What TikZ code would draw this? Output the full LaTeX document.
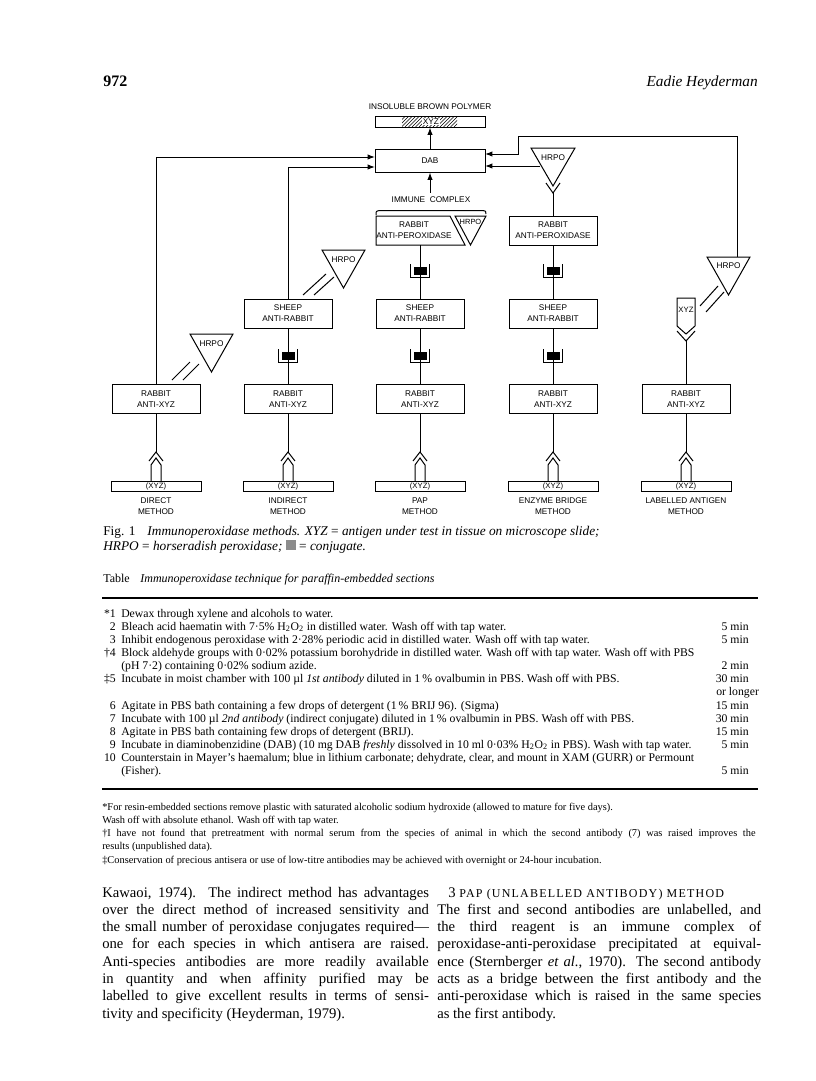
\documentclass[tikz,border=0pt]{standalone}
\usepackage{fontspec}
\setmainfont{Liberation Serif}
\newfontfamily\dsans{Liberation Sans}
\usetikzlibrary{arrows.meta}
\newcommand\myTab{\fontsize{8.8}{10}\selectfont}
\newcommand\myFn{\fontsize{7.8}{9}\selectfont}
\newcommand\myBody{\fontsize{11}{13}\selectfont}
\newcommand\myCap{\fontsize{10}{12}\selectfont}
\newcommand\myDia{\dsans\fontsize{6.2}{8.2}\selectfont}
\newcommand\jl[1]{\makebox[245pt][s]{#1}}
\newcommand\jr[1]{\makebox[243pt][s]{#1}}
\tikzset{
 conj/.pic={
  \fill[black] (-6.5,-4.5) rectangle (6.5,4);
  \draw[line width=0.8pt] (-9.5,-7) -- (-9.5,6.5) -- (9.5,6.5) -- (9.5,-7);
 },
 recep/.pic={
  \draw[line width=0.75pt] (-7,9) -- (0,0) -- (7,9);
  \draw[line width=0.75pt] (-5,29) -- (-5,13) -- (0,6) -- (5,13) -- (5,29);
 },
 ln/.style={line width=0.75pt},
 arr/.style={line width=0.75pt,-{Latex[length=5.5pt,width=4pt]}},
 box/.style={draw,line width=0.75pt,minimum width=66pt,minimum height=21.75pt,inner sep=0pt,align=center,font=\myDia},
 bar/.style={draw,line width=0.75pt,minimum width=67.5pt,minimum height=7.5pt,inner sep=0pt,font=\dsans\fontsize{5.8}{6}\selectfont},
 lbl/.style={inner sep=0pt,align=center,font=\myDia},
 row/.style={anchor=base west,inner sep=0pt,font=\myTab},
 num/.style={anchor=base east,inner sep=0pt,font=\myTab},
 fn/.style={anchor=base west,inner sep=0pt,font=\myFn},
 bd/.style={anchor=base west,inner sep=0pt,font=\myBody},
}
\begin{document}
\begin{tikzpicture}[x=0.75pt,y=-0.75pt]
\useasboundingbox (0,0) rectangle (816,1081);
\fill[white] (0,0) rectangle (816,1081);

% header
\node[anchor=base west,inner sep=0pt,font=\fontsize{12}{14}\selectfont\bfseries] (pg) at (103,87) {972};
\node[anchor=base east,inner sep=0pt,font=\fontsize{11.5}{14}\selectfont\itshape] (au) at (758,87) {Eadie Heyderman};

% ---------- top of diagram
\node[lbl] (ibp) at (430,107) {INSOLUBLE BROWN POLYMER};
\begin{scope}
\clip (402,116) rectangle (457,127);
\foreach \i in {0,3.5,...,70} \draw[line width=0.45pt] (402+\i-11,127) -- (402+\i,116);
\end{scope}
\node[lbl,fill=white,inner sep=0.8pt] (xyzp) at (431,121.5) {XYZ};
\node[draw,line width=0.75pt,minimum width=82.5pt,minimum height=8.25pt,inner sep=0pt] (poly) at (430,121.5) {};
\node[box,minimum width=82.5pt,minimum height=17.25pt] (dab) at (430,160.5) {DAB};
\draw[arr] (dab) -- (poly);

\node[lbl] (icl) at (431,200) {IMMUNE\ \ COMPLEX};
\draw[arr] ([yshift=3pt]icl.north -| dab.south) -- (dab.south);
\draw[ln] (376,215) .. controls (376,211) .. (380,210.5) -- (482,210.5) .. controls (486,211) .. (486,214);

% PAP immune complex
\draw[ln] (376,216) -- (450,216) -- (465,245) -- (376,245) -- cycle;
\node[lbl] (P-ap) at (414,230.5) {RABBIT\\ANTI-PEROXIDASE};
\draw[ln] (455,216) -- (486,216) -- (470.5,245) -- cycle;
\node[lbl,font=\dsans\fontsize{5.6}{6}\selectfont] (P-hr) at (470.5,221.5) {HRPO};
\coordinate (P-apb) at (420,245);

% boxes
\node[box] (E-ap) at (553,230.5) {RABBIT\\ANTI-PEROXIDASE};
\node[box] (I-sh) at (288,313.5) {SHEEP\\ANTI-RABBIT};
\node[box] (P-sh) at (420,313.5) {SHEEP\\ANTI-RABBIT};
\node[box] (E-sh) at (553,313.5) {SHEEP\\ANTI-RABBIT};
\node[box] (D-rb) at (156,399) {RABBIT\\ANTI-XYZ};
\node[box] (I-rb) at (288,399) {RABBIT\\ANTI-XYZ};
\node[box] (P-rb) at (420,399) {RABBIT\\ANTI-XYZ};
\node[box] (E-rb) at (553,399) {RABBIT\\ANTI-XYZ};
\node[box] (L-rb) at (686,399) {RABBIT\\ANTI-XYZ};

% links with conjugates
\draw[ln] (P-apb) -- (P-sh);
\draw[ln] (E-ap) -- (E-sh);
\draw[ln] (I-sh) -- (I-rb);
\draw[ln] (P-sh) -- (P-rb);
\draw[ln] (E-sh) -- (E-rb);
\pic at (420,271) {conj};
\pic at (553,271) {conj};
\pic at (288,356) {conj};
\pic at (420,356) {conj};
\pic at (553,356) {conj};

% antigen receptors, slides, labels
\foreach \c/\n/\t in {156/D/{DIRECT\\METHOD},288/I/{INDIRECT\\METHOD},420/P/{PAP\\METHOD},553/E/{ENZYME BRIDGE\\METHOD},686/L/{LABELLED ANTIGEN\\METHOD}}{
  \coordinate (\n-rc) at (\c,452);
  \draw[ln] (\n-rb) -- (\n-rc);
  \pic at (\n-rc) {recep};
  \node[bar] (\n-bar) at (\c,486) {(XYZ)};
  \node[lbl] (\n-lab) at (\c,506.5) {\t};
}

% direct HRPO
\draw[ln] (190,334) -- (233,334) -- (211.5,372) -- cycle;
\node[lbl] (D-hr) at (211.5,344) {HRPO};
\draw[ln] (172,380) -- (190,362);
\draw[ln] (183,380) -- (199,364);

% indirect HRPO
\draw[ln] (322,250) -- (365,250) -- (343.5,288) -- cycle;
\node[lbl] (I-hr) at (343.5,260) {HRPO};
\draw[ln] (303,295) -- (326,274);
\draw[ln] (314,295) -- (334,277);

% enzyme bridge HRPO
\draw[ln] (531,148) -- (575,148) -- (553,186) -- cycle;
\node[lbl] (E-hr) at (553,158) {HRPO};
\draw[ln] (546,183) -- (553,193) -- (560,183);
\coordinate (E-v) at (553,193);
\draw[ln] (E-v) -- (E-ap);

% labelled antigen HRPO and XYZ
\draw[ln] (707,257) -- (750,257) -- (728.5,295) -- cycle;
\node[lbl] (L-hr) at (728.5,266) {HRPO};
\draw[ln] (700,306) -- (718,286);
\draw[ln] (706,312) -- (724,292);
\draw[ln] (677,298) -- (695,298) -- (695,326) -- (686,334) -- (677,326) -- cycle;
\node[lbl,font=\dsans\fontsize{5.8}{6}\selectfont] (L-xyz) at (686,310) {XYZ};
\draw[ln] (677,331) -- (686,341) -- (695,331);
\coordinate (L-v) at (686,341);
\draw[ln] (L-v) -- (L-rb);

% arrows into DAB
\coordinate (dabL1) at (375,157);
\coordinate (dabL2) at (375,167);
\coordinate (dabR1) at (485,154);
\coordinate (dabR2) at (485,166);
\draw[arr] (D-rb) |- (dabL1);
\draw[arr] (I-sh) |- (dabL2);
\coordinate (E-hl) at (540,166);
\draw[arr] (E-hl) -- (dabR2);
\coordinate (L-ht) at (737,257);
\draw[arr] (L-ht) -- (737,136) -- (518,136) -- (518,154) -- (dabR1);

% ---------- caption
\node[anchor=base west,inner sep=0pt,font=\myCap] (cap1) at (103,535) {Fig. 1\hspace{9pt}\textit{Immunoperoxidase methods. XYZ} = \textit{antigen under test in tissue on microscope slide;}};
\node[anchor=base west,inner sep=0pt,font=\myCap] (cap2) at (103,550) {\textit{HRPO} = \textit{horseradish peroxidase;} \textcolor{black!45}{\rule{7.5pt}{7.5pt}} = \textit{conjugate.}};

% ---------- table
\node[anchor=base west,inner sep=0pt,font=\fontsize{9}{11}\selectfont] (ttl) at (103,582) {Table\hspace{8pt}\textit{Immunoperoxidase technique for paraffin-embedded sections}};
\draw[line width=1.3pt] (102,598) -- (758,598);

\node[num] (n1) at (116,617) {*1};
\node[row] (r1) at (121,617) {Dewax through xylene and alcohols to water.};
\node[num] (n2) at (116,630.2) {2};
\node[row] (r2) at (121,630.2) {Bleach acid haematin with 7·5\% H\textsubscript{2}O\textsubscript{2} in distilled water. Wash off with tap water.};
\node[num] (t2) at (749,630.2) {5 min};
\node[num] (n3) at (116,643.3) {3};
\node[row] (r3) at (121,643.3) {Inhibit endogenous peroxidase with 2·28\% periodic acid in distilled water. Wash off with tap water.};
\node[num] (t3) at (749,643.3) {5 min};
\node[num] (n4) at (116,656.5) {†4};
\node[row] (r4) at (121,656.5) {Block aldehyde groups with 0·02\% potassium borohydride in distilled water. Wash off with tap water. Wash off with PBS};
\node[row] (r4b) at (121,669.6) {(pH 7·2) containing 0·02\% sodium azide.};
\node[num] (t4) at (749,669.6) {2 min};
\node[num] (n5) at (116,682.8) {‡5};
\node[row] (r5) at (121,682.8) {Incubate in moist chamber with 100 µl \textit{1st antibody} diluted in 1\,\% ovalbumin in PBS. Wash off with PBS.};
\node[num] (t5) at (749,682.8) {30 min};
\node[row] (t5b) at (716,695.9) {or longer};
\node[num] (n6) at (116,709) {6};
\node[row] (r6) at (121,709) {Agitate in PBS bath containing a few drops of detergent (1\,\% BRIJ 96). (Sigma)};
\node[num] (t6) at (749,709) {15 min};
\node[num] (n7) at (116,722.2) {7};
\node[row] (r7) at (121,722.2) {Incubate with 100 µl \textit{2nd antibody} (indirect conjugate) diluted in 1\,\% ovalbumin in PBS. Wash off with PBS.};
\node[num] (t7) at (749,722.2) {30 min};
\node[num] (n8) at (116,735.3) {8};
\node[row] (r8) at (121,735.3) {Agitate in PBS bath containing few drops of detergent (BRIJ).};
\node[num] (t8) at (749,735.3) {15 min};
\node[num] (n9) at (116,748.5) {9};
\node[row] (r9) at (121,748.5) {Incubate in diaminobenzidine (DAB) (10 mg DAB \textit{freshly} dissolved in 10 ml 0·03\% H\textsubscript{2}O\textsubscript{2} in PBS). Wash with tap water.};
\node[num] (t9) at (749,748.5) {5 min};
\node[num] (n10) at (116,761.6) {10};
\node[row] (r10) at (121,761.6) {Counterstain in Mayer's haemalum; blue in lithium carbonate; dehydrate, clear, and mount in XAM (GURR) or Permount};
\node[row] (r10b) at (121,774.8) {(Fisher).};
\node[num] (t10) at (749,774.8) {5 min};
\draw[line width=1.3pt] (102,789) -- (758,789);

% footnotes
\node[fn] (f1) at (102,810) {*For resin-embedded sections remove plastic with saturated alcoholic sodium hydroxide (allowed to mature for five days).};
\node[fn] (f2) at (102,823.3) {Wash off with absolute ethanol. Wash off with tap water.};
\node[fn] (f3) at (102,836.5) {\makebox[490pt][s]{†I have not found that pretreatment with normal serum from the species of animal in which the second antibody (7) was raised improves the}};
\node[fn] (f4) at (102,849.8) {results (unpublished data).};
\node[fn] (f5) at (102,863) {‡Conservation of precious antisera or use of low-titre antibodies may be achieved with overnight or 24-hour incubation.};

% ---------- body text, left column
\node[bd] (l1) at (102,897) {\jl{Kawaoi, 1974). The indirect method has advantages}};
\node[bd] (l2) at (102,914.3) {\jl{over the direct method of increased sensitivity and}};
\node[bd] (l3) at (102,931.6) {\jl{the small number of peroxidase conjugates required—}};
\node[bd] (l4) at (102,948.9) {\jl{one for each species in which antisera are raised.}};
\node[bd] (l5) at (102,966.2) {\jl{Anti-species antibodies are more readily available}};
\node[bd] (l6) at (102,983.5) {\jl{in quantity and when affinity purified may be}};
\node[bd] (l7) at (102,1000.8) {\jl{labelled to give excellent results in terms of sensi-}};
\node[bd] (l8) at (102,1018.1) {tivity and specificity (Heyderman, 1979).};

% right column
\node[bd] (m1) at (448,897) {3 {\fontsize{9}{10}\selectfont\addfontfeatures{LetterSpace=10}PAP (UNLABELLED ANTIBODY) METHOD}};
\node[bd] (m2) at (437,914.3) {\jr{The first and second antibodies are unlabelled, and}};
\node[bd] (m3) at (437,931.6) {\jr{the third reagent is an immune complex of}};
\node[bd] (m4) at (437,948.9) {\jr{peroxidase-anti-peroxidase precipitated at equival-}};
\node[bd] (m5) at (437,966.2) {\jr{ence (Sternberger \textit{et al.}, 1970). The second antibody}};
\node[bd] (m6) at (437,983.5) {\jr{acts as a bridge between the first antibody and the}};
\node[bd] (m7) at (437,1000.8) {\jr{anti-peroxidase which is raised in the same species}};
\node[bd] (m8) at (437,1018.1) {as the first antibody.};
\end{tikzpicture}
\end{document}
